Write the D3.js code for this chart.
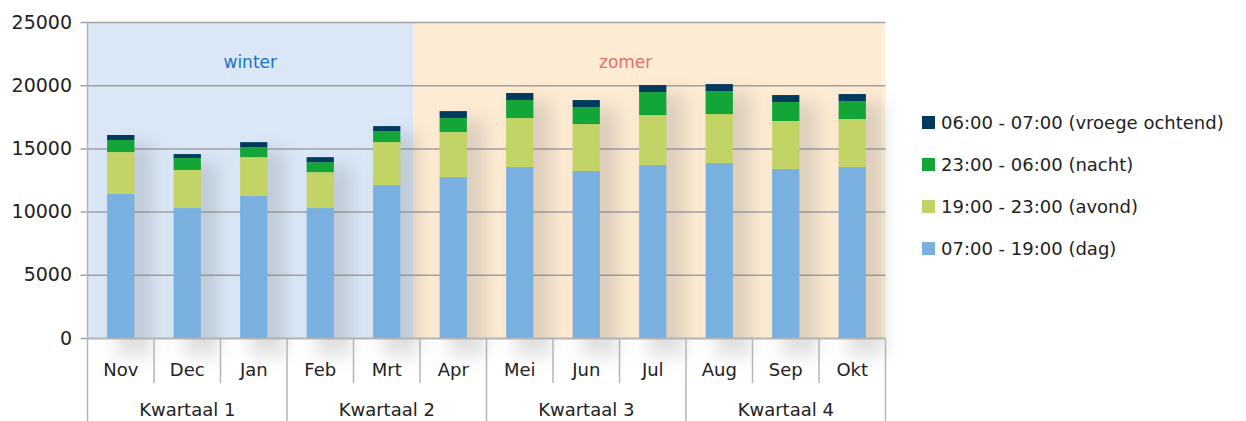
<!DOCTYPE html>
<html>
<head>
<meta charset="utf-8">
<script src="https://cdn.jsdelivr.net/npm/d3@7"></script>
<style>
	body { margin: 0; background: #fff; }
	svg text { font-family: 'DejaVu Sans', sans-serif; fill: #222; }
</style>
</head>
<body>
<svg id="container"></svg>
<script>

// data
const MONTHS = ['Nov', 'Dec', 'Jan', 'Feb', 'Mrt', 'Apr', 'Mei', 'Jun', 'Jul', 'Aug', 'Sep', 'Okt'];
const QUARTERS = ['Kwartaal 1', 'Kwartaal 2', 'Kwartaal 3', 'Kwartaal 4'];
const DAG = [11430, 10320, 11270, 10320, 12140, 12770, 13565, 13250, 13720, 13880, 13405, 13565];
const AVOND = [3320, 3010, 3080, 2840, 3400, 3560, 3875, 3715, 3955, 3875, 3800, 3795];
const NACHT = [950, 950, 790, 790, 870, 1110, 1425, 1345, 1820, 1820, 1500, 1425];
const VROEG = [400, 310, 395, 395, 395, 550, 555, 555, 555, 555, 555, 555];
const SERIES = ['07:00 - 19:00 (dag)', '19:00 - 23:00 (avond)', '23:00 - 06:00 (nacht)', '06:00 - 07:00 (vroege ochtend)'];
const Y_TICKS = [0, 5000, 10000, 15000, 20000, 25000];

const COLORS = ['#7ab0df', '#c2d466', '#13a538', '#003a5c'];
const W = 1246, H = 421;
const LEFT = 87.5, RIGHT = 885.5, TOP = 22.5, BOTTOM = 338.5;

var svg = d3.select('#container').attr('width', W).attr('height', H);

var rows = MONTHS.map(function(m, i) {
	return { month: m, s0: DAG[i], s1: AVOND[i], s2: NACHT[i], s3: VROEG[i] };
});
var stack = d3.stack().keys(['s0', 's1', 's2', 's3'])(rows);

var x = d3.scaleBand().domain(MONTHS).range([LEFT, RIGHT]).paddingInner(0).paddingOuter(0);
var y = d3.scaleLinear().domain([0, 25000]).range([BOTTOM, TOP]);
var bw = x.bandwidth() * 0.41;

// filters
var defs = svg.append('defs');
var f = defs.append('filter').attr('id', 'shadow')
	.attr('x', '-50%').attr('y', '-20%').attr('width', '200%').attr('height', '140%');
f.append('feGaussianBlur').attr('stdDeviation', 9);

// season backgrounds
var split = x('Apr') - 7;
svg.append('rect')
	.attr('x', LEFT).attr('y', TOP)
	.attr('width', split - LEFT).attr('height', BOTTOM - TOP)
	.style('fill', '#d9e7f7');
svg.append('rect')
	.attr('x', split).attr('y', TOP)
	.attr('width', RIGHT - 3 - split).attr('height', BOTTOM - TOP)
	.style('fill', '#fdebd3');
svg.append('rect')
	.attr('x', RIGHT - 3).attr('y', TOP)
	.attr('width', 3).attr('height', BOTTOM - TOP)
	.style('fill', '#fcf3d6');

svg.append('text').text('winter')
	.attr('x', (LEFT + split) / 2).attr('y', 62)
	.attr('text-anchor', 'middle').attr('dominant-baseline', 'central')
	.style('font-size', '17px').style('fill', '#1a73c4');
svg.append('text').text('zomer')
	.attr('x', split + (RIGHT - split) * 0.45).attr('y', 62)
	.attr('text-anchor', 'middle').attr('dominant-baseline', 'central')
	.style('font-size', '17px').style('fill', '#e07370');

// gridlines
svg.append('g').selectAll('line')
	.data(Y_TICKS)
	.enter()
	.append('line')
	.attr('x1', LEFT - 7).attr('x2', RIGHT)
	.attr('y1', function(d) { return y(d); })
	.attr('y2', function(d) { return y(d); })
	.style('stroke', '#a2a2a2')
	.style('stroke-width', 1.5);

svg.append('g').selectAll('text')
	.data(Y_TICKS)
	.enter()
	.append('text')
	.text(function(d) { return d; })
	.attr('x', 72).attr('y', function(d) { return y(d) - 1; })
	.attr('text-anchor', 'end').attr('dominant-baseline', 'central')
	.style('font-size', '19px');

// shadows behind bars
svg.append('g').selectAll('rect')
	.data(rows)
	.enter()
	.append('rect')
	.attr('x', function(d) { return x(d.month) + (x.bandwidth() - bw) / 2 + 10; })
	.attr('y', function(d) { return y(d.s0 + d.s1 + d.s2 + d.s3) + 8; })
	.attr('width', bw + 8)
	.attr('height', function(d) { return BOTTOM - y(d.s0 + d.s1 + d.s2 + d.s3) + 10; })
	.style('fill', '#6c6c6c')
	.style('opacity', 0.22)
	.attr('filter', 'url(#shadow)');

// bars
svg.append('g').selectAll('g')
	.data(stack)
	.enter()
	.append('g')
	.style('fill', function(d, i) { return COLORS[i]; })
	.selectAll('rect')
	.data(function(d) { return d; })
	.enter()
	.append('rect')
	.attr('x', function(d) { return x(d.data.month) + (x.bandwidth() - bw) / 2; })
	.attr('y', function(d) { return y(d[1]); })
	.attr('width', bw)
	.attr('height', function(d) { return y(d[0]) - y(d[1]); });

// axes lines
var axis = svg.append('g').style('stroke', '#b4b4b4').style('stroke-width', 1.5);
axis.append('line').attr('x1', LEFT).attr('x2', LEFT).attr('y1', TOP).attr('y2', H);
axis.append('line').attr('x1', LEFT).attr('x2', RIGHT).attr('y1', BOTTOM).attr('y2', BOTTOM);
axis.selectAll('.sep')
	.data(MONTHS)
	.enter()
	.append('line')
	.attr('x1', function(d) { return x(d) + x.bandwidth(); })
	.attr('x2', function(d) { return x(d) + x.bandwidth(); })
	.attr('y1', BOTTOM)
	.attr('y2', function(d, i) { return (i + 1) % 3 == 0 ? H : 383; });

// month labels
svg.append('g').selectAll('text')
	.data(MONTHS)
	.enter()
	.append('text')
	.text(function(d) { return d; })
	.attr('x', function(d) { return x(d) + x.bandwidth() / 2; })
	.attr('y', 369)
	.attr('text-anchor', 'middle').attr('dominant-baseline', 'central')
	.style('font-size', '18px');

svg.append('g').selectAll('text')
	.data(QUARTERS)
	.enter()
	.append('text')
	.text(function(d) { return d; })
	.attr('x', function(d, i) { return x(MONTHS[i * 3]) + x.bandwidth() * 1.5; })
	.attr('y', 409)
	.attr('text-anchor', 'middle').attr('dominant-baseline', 'central')
	.style('font-size', '18px');

// legend
var legend = svg.append('g').selectAll('g')
	.data(SERIES.slice().reverse())
	.enter()
	.append('g')
	.attr('transform', function(d, i) { return 'translate(922,' + (122 + i * 42) + ')'; });
legend.append('rect')
	.attr('x', 0).attr('y', -6).attr('width', 13).attr('height', 13)
	.style('fill', function(d, i) { return COLORS[3 - i]; });
legend.append('text')
	.text(function(d) { return d; })
	.attr('x', 19).attr('y', 0)
	.attr('dominant-baseline', 'central')
	.style('font-size', '18px');

</script>
</body>
</html>
